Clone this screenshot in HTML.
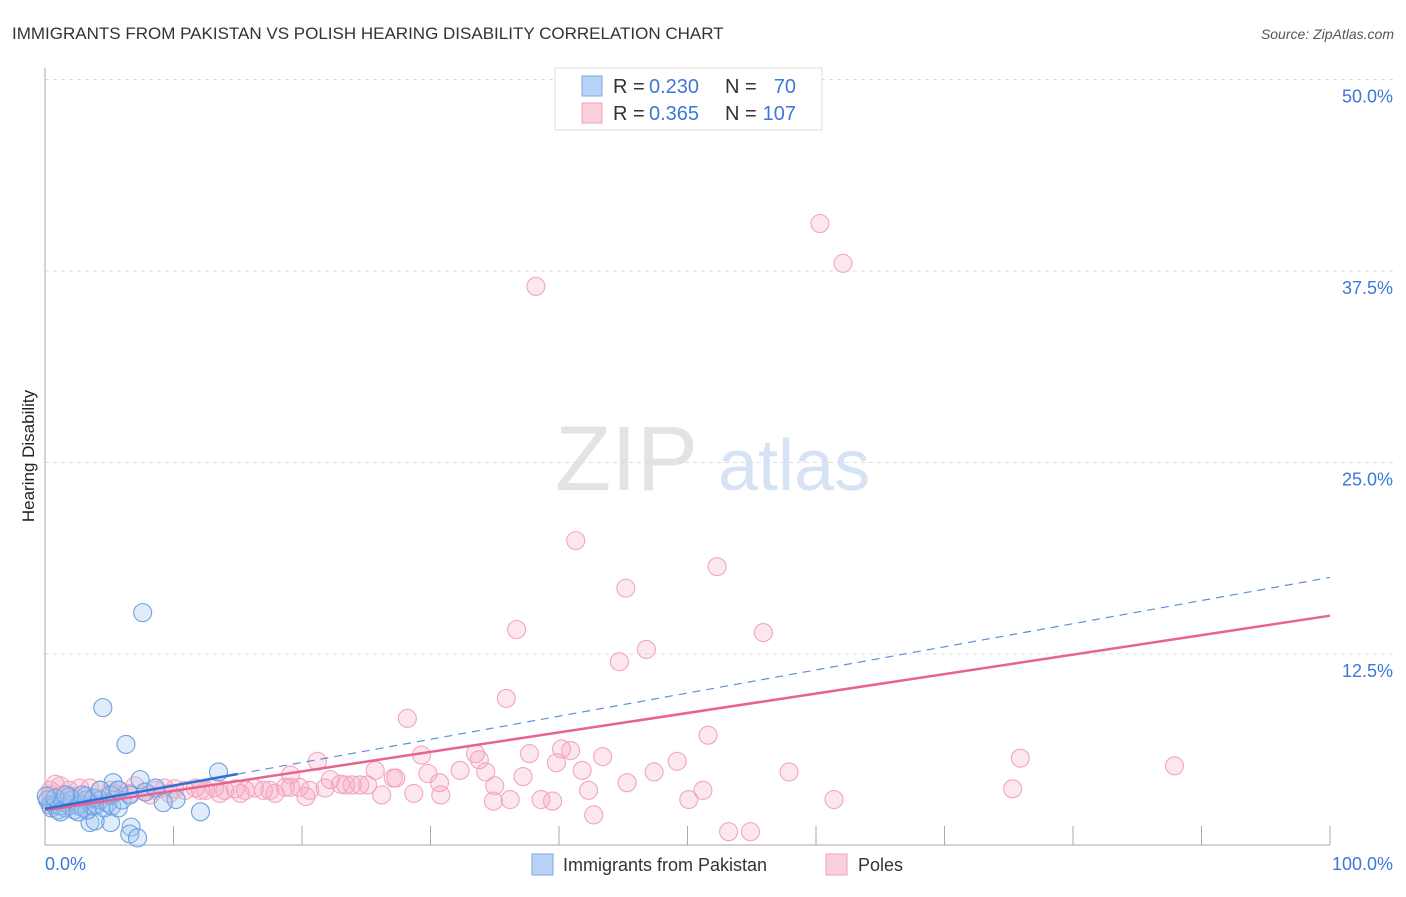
<!DOCTYPE html>
<html><head><meta charset="utf-8"><style>
body{margin:0;background:#fff;font-family:"Liberation Sans",sans-serif}
svg text{font-family:"Liberation Sans",sans-serif}
</style></head><body>
<svg id="c" width="1406" height="892" viewBox="0 0 1406 892">
<text x="12" y="39" font-size="17" fill="#333">IMMIGRANTS FROM PAKISTAN VS POLISH HEARING DISABILITY CORRELATION CHART</text>
<text x="1394" y="39" font-size="14" fill="#555" font-style="italic" text-anchor="end">Source: ZipAtlas.com</text>
<text x="555" y="490" font-size="92" fill="#e3e3e3" font-family="Liberation Serif">ZIP</text>
<text x="718" y="490" font-size="72" fill="#d5e3f5">atlas</text>
<g id="grid"></g><g id="axes"></g>
<text transform="translate(34,456) rotate(-90)" font-size="17" fill="#222" text-anchor="middle">Hearing Disability</text>
<g id="pts"></g><g id="lines"></g>
<g>
<rect x="555" y="68" width="267" height="62" fill="#fff" stroke="#ddd"/>
<rect x="582" y="76" width="20" height="20" fill="#b8d3f5" stroke="#7aa8e6"/>
<rect x="582" y="103" width="20" height="20" fill="#fbd0dd" stroke="#f0a0b8"/>
<g font-size="20">
<text x="613" y="93" fill="#333">R =</text><text x="649" y="93" fill="#3b78d8">0.230</text>
<text x="725" y="93" fill="#333">N =</text><text x="796" y="93" fill="#3b78d8" text-anchor="end">70</text></g>
<g font-size="20">
<text x="613" y="120" fill="#333">R =</text><text x="649" y="120" fill="#3b78d8">0.365</text>
<text x="725" y="120" fill="#333">N =</text><text x="796" y="120" fill="#3b78d8" text-anchor="end">107</text></g>
</g>
<rect x="532" y="854" width="21" height="21" fill="#b8d3f5" stroke="#7aa8e6"/>
<text x="563" y="871" font-size="18" fill="#333">Immigrants from Pakistan</text>
<rect x="826" y="854" width="21" height="21" fill="#fbd0dd" stroke="#f0a0b8"/>
<text x="858" y="871" font-size="18" fill="#333">Poles</text>
</svg>
<script>
const yTicks=[12.5,25,37.5,50];
const yTickLabels=["12.5%","25.0%","37.5%","50.0%"];
const xTickLabels=["0.0%","100.0%"];
const pinkX=[60.3,62.1,38.2,41.3,52.3,45.2,36.7,55.9,46.8,44.7,35.9,28.2,51.6,75.9,87.9,21.2,29.3,33.5,37.7,40.2,40.9,43.4,39.8,49.2,33.8,57.9,47.4,41.8,34.3,32.3,29.8,25.7,37.2,30.7,35.0,45.3,51.2,75.3,42.3,30.8,28.7,26.2,36.2,34.9,38.6,39.5,50.1,61.4,42.7,53.2,54.9,20.3,
19.1,22.2,23.4,23.9,24.5,25.1,27.1,27.3,19.1,17.5,17.0,16.3,15.6,14.8,14.0,13.2,12.5,11.7,10.9,10.1,9.3,8.6,7.8,6.6,5.8,5.1,4.3,3.5,2.7,1.9,1.2,0.8,0.4,0.2,0.4,1.3,2.3,3.3,4.3,5.4,7.0,8.2,9.7,12.1,13.6,15.2,17.9,18.7,20.6,21.8,23.0,19.8];
const pinkY=[40.6,38.0,36.5,19.9,18.2,16.8,14.1,13.9,12.8,12.0,9.6,8.3,7.2,5.7,5.2,5.5,5.9,6.0,6.0,6.3,6.2,5.8,5.4,5.5,5.6,4.8,4.8,4.9,4.8,4.9,4.7,4.9,4.5,4.1,3.9,4.1,3.6,3.7,3.6,3.3,3.4,3.3,3.0,2.9,3.0,2.9,3.0,3.0,2.0,0.9,0.9,3.2,
4.6,4.3,3.95,3.95,3.95,3.95,4.4,4.4,3.8,3.6,3.6,3.75,3.6,3.7,3.6,3.75,3.6,3.75,3.6,3.7,3.75,3.6,3.5,3.4,3.6,3.6,3.6,3.75,3.75,3.6,3.9,4.0,3.6,3.0,3.3,3.3,3.2,3.0,3.0,3.4,3.9,3.3,3.4,3.6,3.4,3.4,3.4,3.8,3.6,3.75,4.0,3.8];
const blueX=[7.6,4.5,6.3,13.5,7.4,5.3,10.2,9.2,12.1,6.7,6.6,7.2,5.1,3.5,3.9,
0.2,0.4,0.5,0.8,1.0,1.2,1.4,1.6,1.9,2.1,2.3,2.6,2.7,3.0,3.2,3.3,3.7,4.0,4.3,4.6,4.9,5.2,5.7,6.0,3.2,1.9,0.8,0.1,1.2,2.6,3.8,4.3,2.9,1.6,5.1,6.6,5.7,7.8,8.6];
const blueY=[15.2,9.0,6.6,4.8,4.3,4.1,3.0,2.8,2.2,1.2,0.75,0.5,1.5,1.5,1.6,
2.97,2.64,2.45,2.64,2.32,2.58,2.84,2.45,2.64,2.97,2.32,2.58,2.7,2.45,2.97,2.32,2.58,2.64,2.97,2.45,2.77,2.58,2.45,2.97,3.23,3.17,3.1,3.23,2.19,2.19,3.1,3.62,3.3,3.3,3.3,3.3,3.62,3.49,3.75];
const pinkTrend=[2.3,15.0];
const blueTrend=[2.4,17.5];
const blueSolidEnd=15;
const X0=45,X1=1330,Y0=845.5,YS=191.5/12.5;
const sx=v=>X0+(X1-X0)*v/100, sy=v=>Y0-v*YS;
const NS="http://www.w3.org/2000/svg";
function mk(t,a,p){const e=document.createElementNS(NS,t);for(const k in a)e.setAttribute(k,a[k]);p.appendChild(e);return e;}
const grid=document.getElementById('grid'),axes=document.getElementById('axes'),pts=document.getElementById('pts'),lines=document.getElementById('lines');
yTicks.forEach((t,i)=>{
 const l=mk('line',{x1:X0,x2:1393,y1:sy(t),y2:sy(t),stroke:'#ddd','stroke-dasharray':'4,4'},grid);
 
 
 const tx=mk('text',{x:1393,y:sy(t)+23,'font-size':18,fill:'#3b78d8','text-anchor':'end'},axes);
 tx.textContent=yTickLabels[i];
 
 
});
const ax=mk('path',{d:`M${X0} 68V845H${X1}`,stroke:'#aaa',fill:'none'},axes);


for(let i=1;i<=10;i++){
 const t=mk('line',{x1:sx(i*10),x2:sx(i*10),y1:826,y2:845,stroke:'#aaa'},axes);
 
 
}
[[45,'start'],[1393,'end']].forEach((p,i)=>{
 const t=mk('text',{x:p[0],y:870,'font-size':18,fill:'#3b78d8','text-anchor':p[1]},axes);
 t.textContent=xTickLabels[i];
 
 
});
pinkX.forEach((x,i)=>{
 const c=mk('circle',{cx:sx(x),cy:sy(pinkY[i]),r:9,fill:'rgba(246,170,195,0.28)',stroke:'#f3a5bd','stroke-width':1.1},pts);
 
 
});
blueX.forEach((x,i)=>{
 const c=mk('circle',{cx:sx(x),cy:sy(blueY[i]),r:9,fill:'rgba(160,195,240,0.32)',stroke:'#6d9fe2','stroke-width':1.1},pts);
 
 
});
const pl=mk('line',{x1:sx(0),y1:sy(pinkTrend[0]),x2:sx(100),y2:sy(pinkTrend[1]),stroke:'#e8638f','stroke-width':2.5},lines);


const bm=v=>blueTrend[0]+(blueTrend[1]-blueTrend[0])*v/100;
const bd=mk('line',{x1:sx(blueSolidEnd),y1:sy(bm(blueSolidEnd)),x2:sx(100),y2:sy(blueTrend[1]),stroke:'#5f8fd8','stroke-width':1.2,'stroke-dasharray':'8,6'},lines);


const bs=mk('line',{x1:sx(0),y1:sy(blueTrend[0]),x2:sx(blueSolidEnd),y2:sy(bm(blueSolidEnd)),stroke:'#2f6fd6','stroke-width':2.5},lines);


</script>
</body></html>
